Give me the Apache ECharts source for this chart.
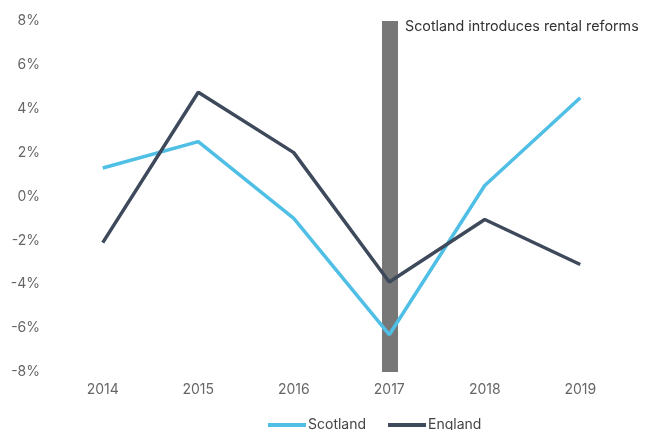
<!DOCTYPE html>
<html>
<head>
<meta charset="utf-8">
<script src="https://cdn.jsdelivr.net/npm/echarts@6/dist/echarts.min.js"></script>
<style>html,body{margin:0;padding:0;background:#fff}#c{width:654px;height:430px}</style>
</head>
<body>
<div id="c"></div>
<script>
const years = ['2014', '2015', '2016', '2017', '2018', '2019'];
const scotland = [1.3, 2.5, -1.0, -6.3, 0.5, 4.5];
const england = [-2.1, 4.75, 2.0, -3.9, -1.05, -3.1];
const eventYear = '2017';
const eventLabel = 'Scotland introduces rental reforms';
const yMin = -8, yMax = 8, yStep = 2;

const chart = echarts.init(document.getElementById('c'));
const font = 'Inter, "Noto Sans", sans-serif';
chart.setOption({
  animation: false,
  textStyle: { fontFamily: font },
  grid: { left: 55, right: 26, top: 21, bottom: 58, containLabel: false },
  legend: {
    top: 413, left: 263,
    icon: 'rect', itemWidth: 38, itemHeight: 4, itemGap: 22,
    textStyle: { color: '#444', fontSize: 14, fontFamily: font, padding: [0, 0, 0, -3] },
    data: ['Scotland', 'England']
  },
  xAxis: {
    type: 'category', data: years, boundaryGap: true,
    axisLine: { show: false }, axisTick: { show: false },
    axisLabel: { color: '#666', fontSize: 14, margin: 11 },
    splitLine: { show: false }
  },
  yAxis: {
    type: 'value', min: yMin, max: yMax, interval: yStep,
    axisLine: { show: false }, axisTick: { show: false },
    splitLine: { show: false },
    axisLabel: { color: '#666', fontSize: 14, margin: 15, formatter: '{value}%' }
  },
  graphic: [{
    type: 'text', left: 405, top: 20,
    style: { text: eventLabel, fill: '#333', fontSize: 14.3, fontFamily: font }
  }],
  series: [
    {
      name: 'Scotland', type: 'line', data: scotland, symbol: 'none',
      lineStyle: { color: '#4fbfe6', width: 3.5 }, itemStyle: { color: '#4fbfe6' },
      z: 3,
      markLine: {
        silent: true, symbol: 'none', z: 1,
        label: { show: false },
        lineStyle: { color: '#777', width: 16, type: 'solid' },
        data: [{ xAxis: eventYear }]
      }
    },
    {
      name: 'England', type: 'line', data: england, symbol: 'none',
      lineStyle: { color: '#3e4a5b', width: 3.5 }, itemStyle: { color: '#3e4a5b' },
      z: 4
    }
  ]
});
</script>
</body>
</html>
